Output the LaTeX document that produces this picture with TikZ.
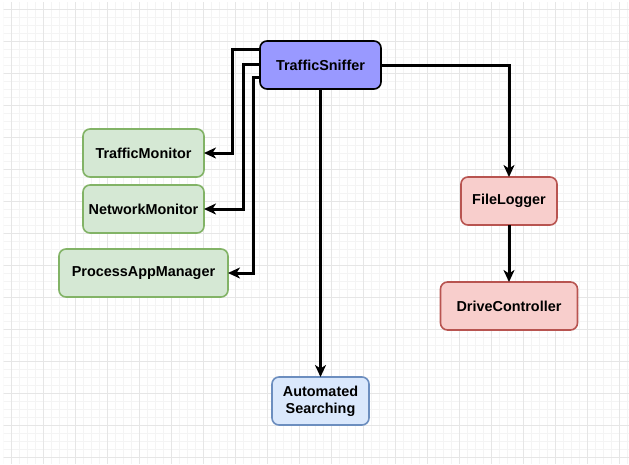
\documentclass[tikz,border=0pt]{standalone}
\usepackage{fontspec}
\setmainfont{Liberation Sans}
\usetikzlibrary{arrows.meta,positioning}
\definecolor{snifferfill}{HTML}{9999FF}
\definecolor{greenfill}{HTML}{D5E8D4}
\definecolor{greenline}{HTML}{82B366}
\definecolor{redfill}{HTML}{F8CECC}
\definecolor{redline}{HTML}{B85450}
\definecolor{bluefill}{HTML}{DAE8FC}
\definecolor{blueline}{HTML}{6C8EBF}
\definecolor{gridminor}{HTML}{F4F4F4}
\definecolor{gridmajor}{HTML}{E6E6E6}

\begin{document}
\begin{tikzpicture}[x=1pt, y=-1pt, every node/.style={font=\fontsize{14.4}{17}\selectfont\bfseries}, box/.style={draw, line width=1.6pt, rounded corners=7pt, align=center, inner sep=0pt, outer sep=0pt, minimum height=48pt}, sniff/.style={box, fill=snifferfill, draw=black}, monitor/.style={box, fill=greenfill, draw=greenline}, logbox/.style={box, fill=redfill, draw=redline}, searchbox/.style={box, fill=bluefill, draw=blueline}, conn/.style={line width=3pt, -{Stealth[length=12pt,width=11pt,inset=3.5pt]}}]
\useasboundingbox (0,0) rectangle (629,464);
% background grid
\begin{scope}
\clip (3.5,2.5) rectangle (629,464);
\foreach \x in {3,11,...,627} \draw[gridminor, line width=1pt] (\x,0) -- (\x,464);
\foreach \y in {1,9,...,457} \draw[gridminor, line width=1pt] (0,\y) -- (629,\y);
\foreach \x in {11,43,...,619} \draw[gridmajor, line width=1pt] (\x,0) -- (\x,464);
\foreach \y in {9,41,...,457} \draw[gridmajor, line width=1pt] (0,\y) -- (629,\y);
\end{scope}
\node[sniff, minimum width=121pt] (sniffer) at (320.5,65) {TrafficSniffer};
\node[monitor, minimum width=121pt, below left=40pt and 56pt of sniffer] (trafmon) {TrafficMonitor};
\node[monitor, minimum width=121pt, below=8pt of trafmon] (netmon) {NetworkMonitor};
\node[monitor, minimum width=169pt, below=16pt of netmon] (procmgr) {ProcessAppManager};
\node[logbox, minimum width=96pt, below right=88pt and 80pt of sniffer] (filelog) {FileLogger};
\node[logbox, minimum width=137pt, below=57pt of filelog] (drivectl) {DriveController};
\node[searchbox, minimum width=97pt, below=288pt of sniffer] (autosearch) {Automated\\Searching};
\draw[conn] ([yshift=16pt]sniffer.west) -- ++(-28,0) |- (trafmon.east);
\draw[conn] ([yshift=1pt]sniffer.west) -- ++(-17,0) |- (netmon.east);
\draw[conn] ([yshift=-12pt]sniffer.west) -- ++(-7,0) |- (procmgr.east);
\draw[conn] (sniffer.east) -| (filelog.north);
\draw[conn] (filelog) -- (drivectl);
\draw[conn] (sniffer) -- (autosearch);
\end{tikzpicture}
\end{document}
